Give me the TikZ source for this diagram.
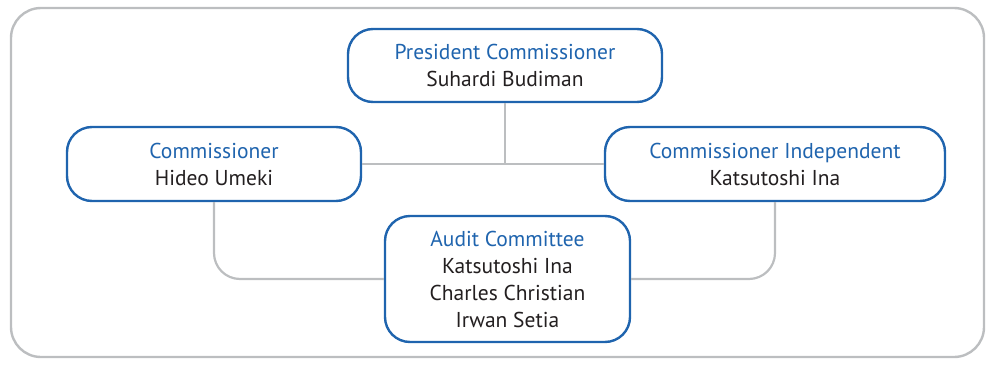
\documentclass[tikz,border=0pt]{standalone}
\usepackage{fontspec}
\setmainfont{PT Sans}
\usetikzlibrary{positioning}
\definecolor{boxblue}{HTML}{1F64AE}
\definecolor{linegray}{HTML}{BCBEC0}
\definecolor{nametext}{HTML}{231F20}
\tikzset{
x=1pt, y=-1pt, % pixel-like units, y grows downwards
box/.style={draw=boxblue, line width=2.4pt, rounded corners=25pt, fill=white,
  align=center, text=nametext, inner sep=0pt,
  font=\fontsize{21.5}{27}\selectfont}, % sets the look of every member box
link/.style={draw=linegray, line width=2.2pt}, % grey connector lines
frame/.style={draw=linegray, line width=2.4pt, rounded corners=30pt},
}
\newcommand{\role}[1]{\textcolor{boxblue}{#1}}

\begin{document}
\begin{tikzpicture}
  \useasboundingbox (0,0) rectangle (990,364);
  \draw[frame] (11,8) rectangle (984,357);

  \node[box, minimum width=314pt, minimum height=73pt] (pres) at (505,65.5)
    {\role{President Commissioner}\\Suhardi Budiman};
  \node[box, minimum width=294pt, minimum height=74pt] (comm) at (214,164)
    {\role{Commissioner}\\Hideo Umeki};
  \node[box, minimum width=340pt, minimum height=74pt] (indep) at (775,164)
    {\role{Commissioner Independent}\\Katsutoshi Ina};
  \node[box, minimum width=245pt, minimum height=126pt] (audit) at (507.5,279)
    {\role{Audit Committee}\\Katsutoshi Ina\\Charles Christian\\Irwan Setia};

  \path[link]
  (pres.south) -- (pres.south |- comm.east)
  (comm.east) -- (indep.west);
  \path[link, rounded corners=26pt]
  (comm.south) |- (audit.west)
  (indep.south) |- (audit.east);
\end{tikzpicture}
\end{document}
